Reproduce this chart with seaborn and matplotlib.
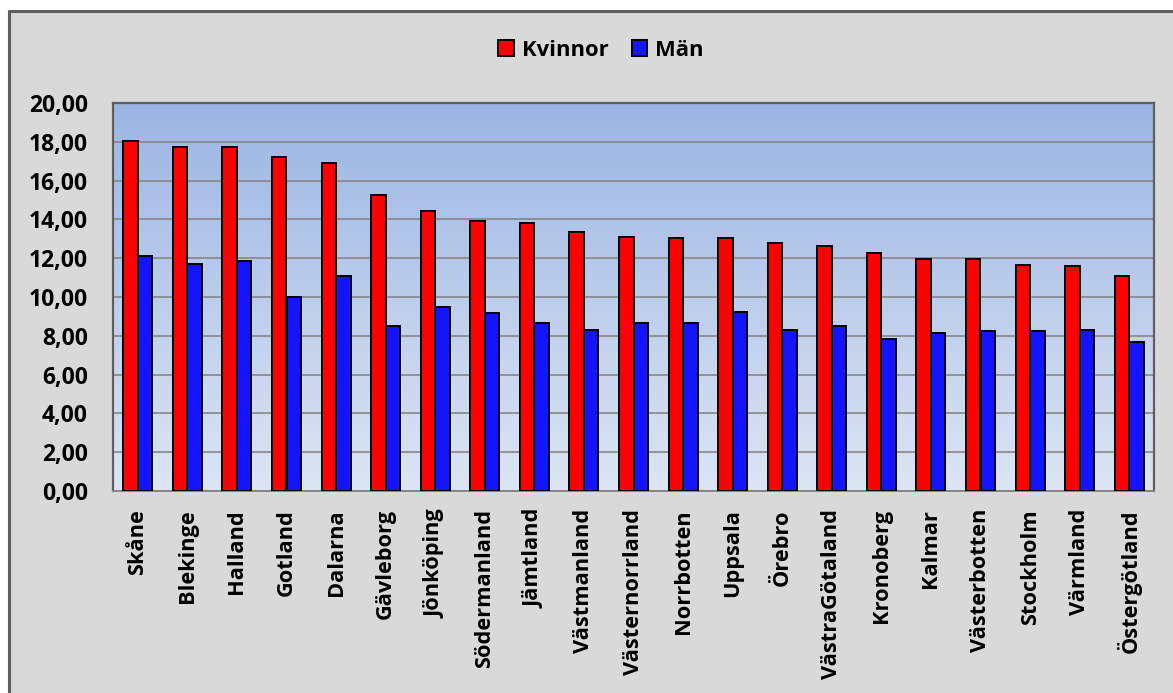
import numpy as np
import pandas as pd
import seaborn as sns
import matplotlib
matplotlib.use('Agg')
import matplotlib.pyplot as plt
from matplotlib.colors import LinearSegmentedColormap
from matplotlib.lines import Line2D
from matplotlib.ticker import FuncFormatter, MultipleLocator

lan = ["Skåne", "Blekinge", "Halland", "Gotland", "Dalarna", "Gävleborg",
       "Jönköping", "Södermanland", "Jämtland", "Västmanland", "Västernorrland",
       "Norrbotten", "Uppsala", "Örebro", "VästraGötaland", "Kronoberg",
       "Kalmar", "Västerbotten", "Stockholm", "Värmland", "Östergötland"]
kvinnor = [18.02, 17.72, 17.72, 17.20, 16.93, 15.26, 14.42, 13.90, 13.81, 13.36,
           13.10, 13.03, 13.02, 12.79, 12.62, 12.26, 11.95, 11.95, 11.67, 11.62, 11.07]
man = [12.12, 11.69, 11.88, 10.02, 11.10, 8.52, 9.48, 9.16, 8.64, 8.29,
       8.66, 8.67, 9.22, 8.28, 8.52, 7.85, 8.12, 8.23, 8.26, 8.28, 7.66]
series = ["Kvinnor", "Män"]
colors = {"Kvinnor": "#FF0000", "Män": "#1414FF"}

df = pd.DataFrame({
    "lan": lan * 2,
    "varde": kvinnor + man,
    "kon": [series[0]] * len(lan) + [series[1]] * len(lan),
})

sns.set_style("white")
plt.rcParams['font.family'] = ['Open Sans', 'DejaVu Sans']
plt.rcParams['font.weight'] = 'bold'
plt.rcParams['text.color'] = 'black'
plt.rcParams['xtick.labelcolor'] = 'black'
plt.rcParams['ytick.labelcolor'] = 'black'

fig = plt.figure(figsize=(11.73, 6.93), dpi=100)
fig.patch.set_facecolor('white')

# grey chart area with frame (only top/left edge visible in the crop)
fig.patches.append(plt.Rectangle((8 / 1173, 0), 1.0, 1 - 11 / 693,
                                 transform=fig.transFigure, facecolor='#D9D9D9',
                                 edgecolor='none', zorder=-5))
fig.add_artist(Line2D([8.5 / 1173, 8.5 / 1173], [0, 1 - 11 / 693],
                      transform=fig.transFigure, color='#5F5F5F', lw=2.2, zorder=-4))
fig.add_artist(Line2D([8.5 / 1173, 1], [1 - 11 / 693, 1 - 11 / 693],
                      transform=fig.transFigure, color='#5F5F5F', lw=2.2, zorder=-4))

ax = fig.add_axes([113 / 1173, 1 - 491 / 693, (1154 - 113) / 1173, (491 - 103) / 693])

sns.barplot(data=df, x="lan", y="varde", hue="kon", palette=colors,
            width=0.585, saturation=1, edgecolor='black', linewidth=1.4,
            ax=ax, zorder=3)

# gradient plot area
grad = LinearSegmentedColormap.from_list("bg", ["#DDE5F4", "#9BB5E3"])
ax.imshow(np.linspace(0, 1, 256).reshape(-1, 1), cmap=grad, origin='lower',
          extent=[-0.5, len(lan) - 0.5, 0, 20], aspect='auto', zorder=0)

ax.set_xlim(-0.5, len(lan) - 0.5)
ax.set_ylim(0, 20)
ax.yaxis.set_major_locator(MultipleLocator(2))
ax.yaxis.set_major_formatter(FuncFormatter(lambda v, p: f"{v:.2f}".replace('.', ',')))
ax.grid(axis='y', color='#868686', lw=1.2, zorder=1)
ax.set_axisbelow(True)
ax.set_xlabel("")
ax.set_ylabel("")

ax.tick_params(axis='y', length=6, width=1.2, color='#868686', pad=12,
               labelsize=16.5)
ax.set_xticks(np.arange(len(lan)))
ax.set_xticklabels(lan, rotation=90, fontsize=15.7, fontweight='bold')
ax.tick_params(axis='x', which='major', length=0, pad=13)
ax.set_xticks(np.arange(-0.5, len(lan)), minor=True)
ax.tick_params(axis='x', which='minor', length=6, width=1.2, color='#868686')
for lbl in ax.get_yticklabels():
    lbl.set_fontweight('bold')

for side in ['top', 'left', 'right']:
    ax.spines[side].set_color('#5F5F5F')
    ax.spines[side].set_linewidth(1.6)
ax.spines['bottom'].set_color('#868686')
ax.spines['bottom'].set_linewidth(1.4)

handles, labels = ax.get_legend_handles_labels()
ax.get_legend().remove()
fig.legend(handles, labels, loc='center', bbox_to_anchor=(601 / 1173, 1 - 50 / 693),
           ncol=2, frameon=False, handlelength=0.72, handleheight=0.72,
           handletextpad=0.35, columnspacing=1.05,
           prop={'weight': 'bold', 'size': 15.8})

fig.savefig("out.png", dpi=100)
